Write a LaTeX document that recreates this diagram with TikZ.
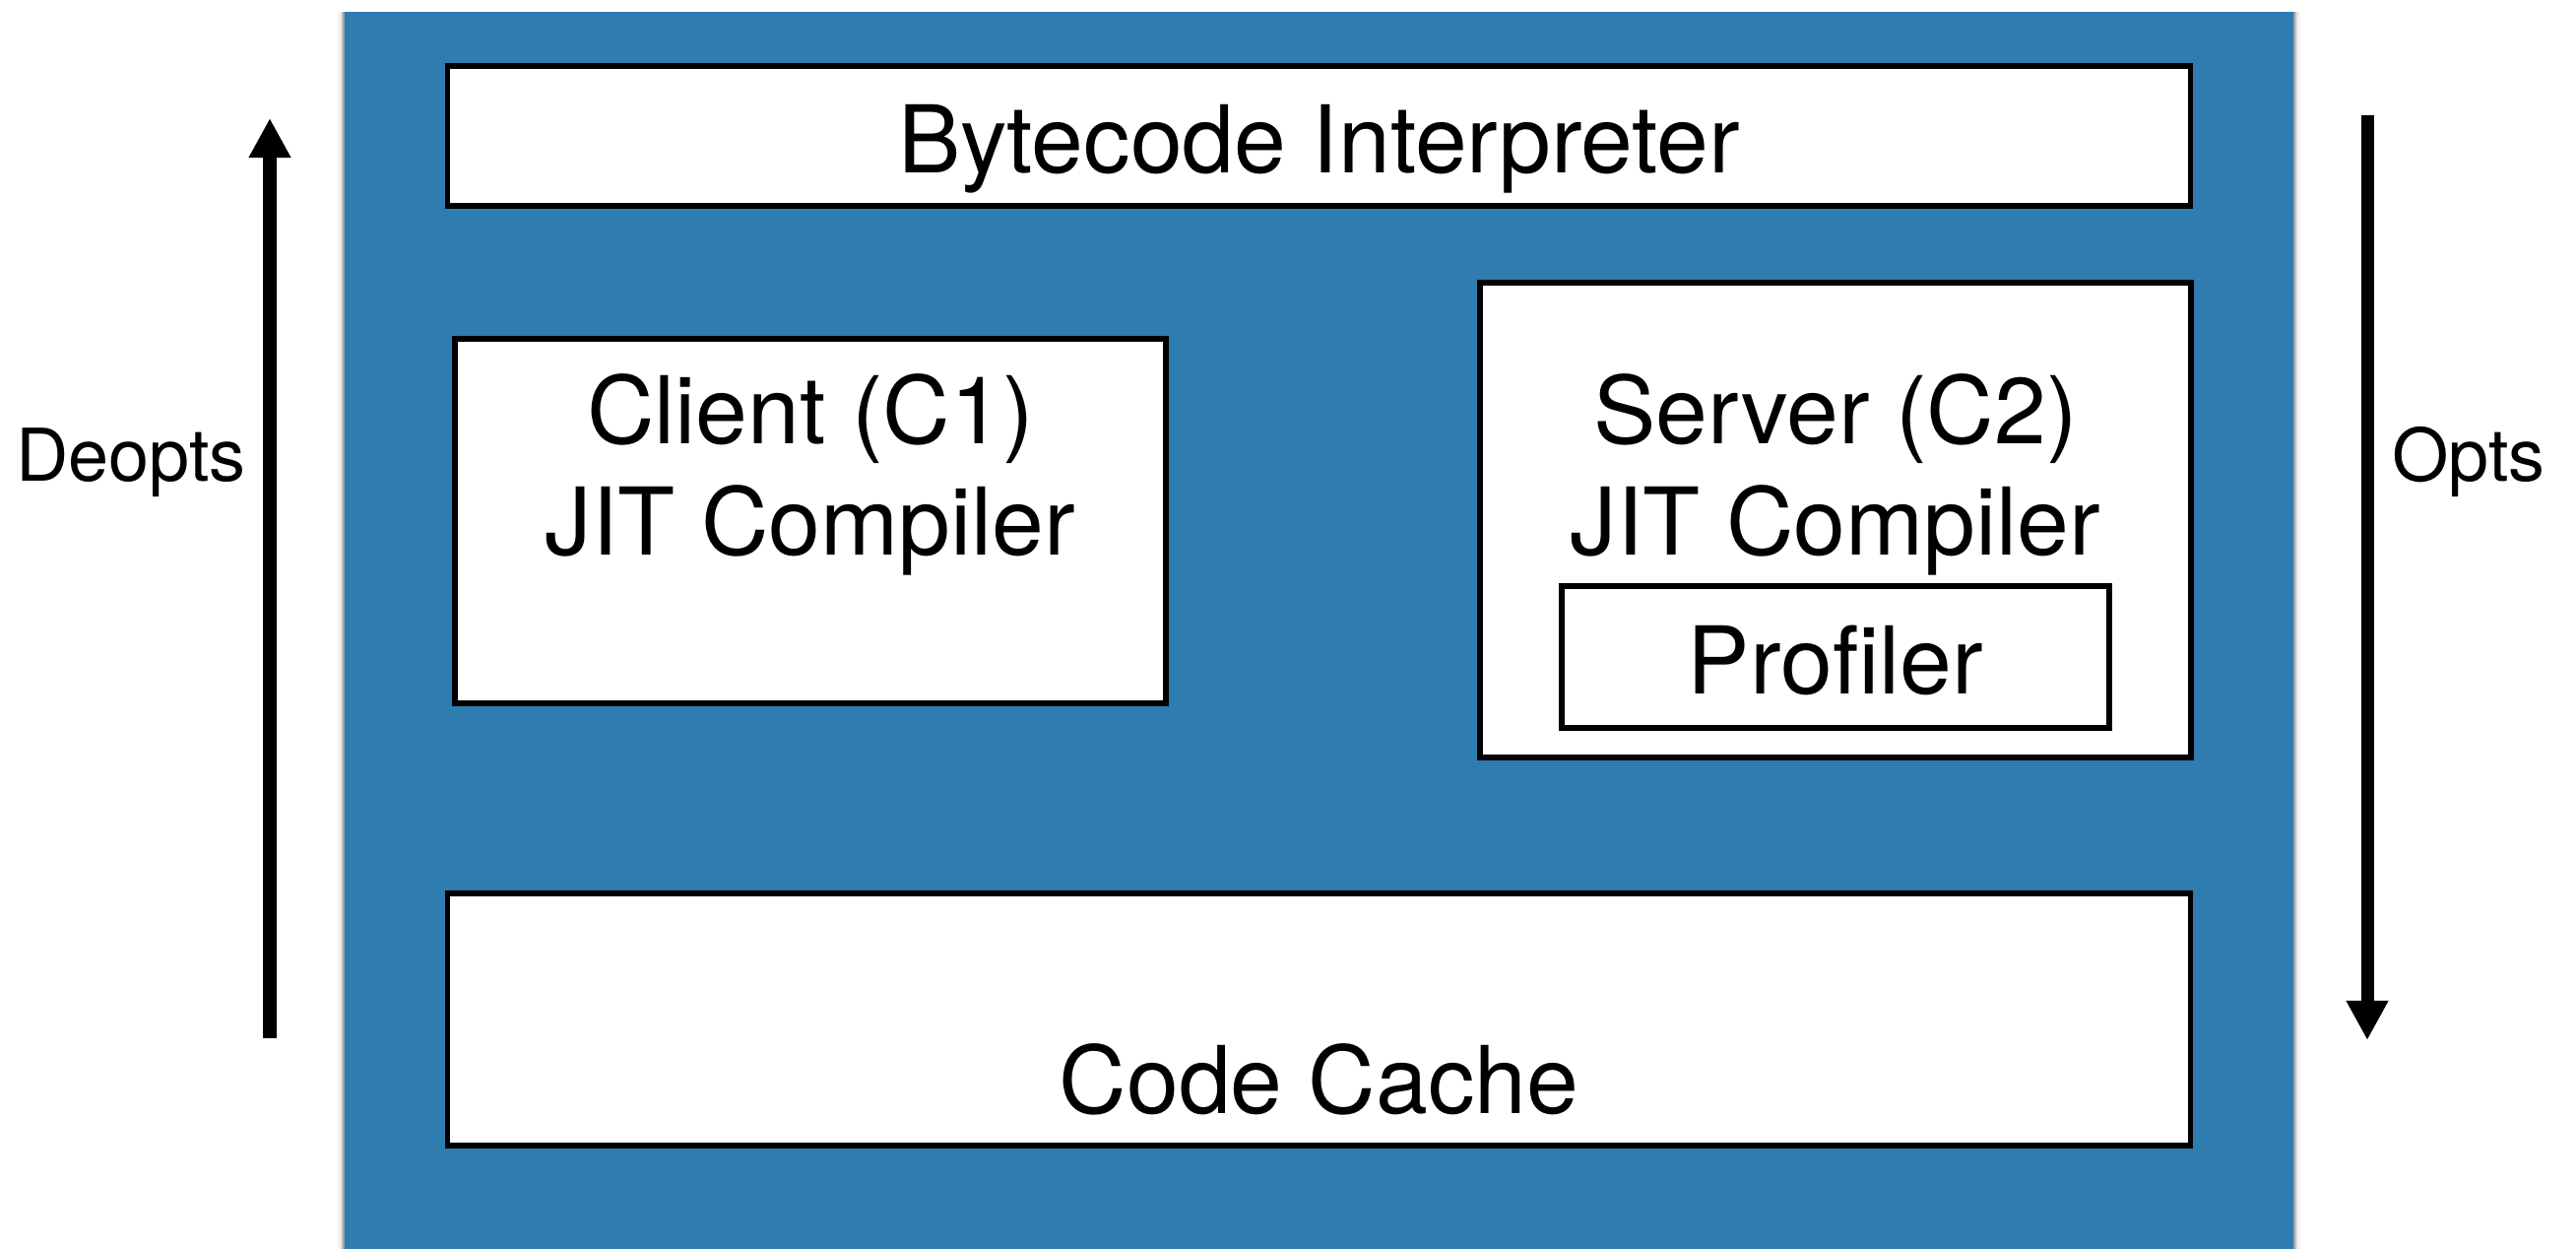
\documentclass[tikz,border=0pt]{standalone}
\usepackage{fontspec}
\setmainfont{TeX Gyre Heros}
\usetikzlibrary{arrows.meta}
\definecolor{jvmblue}{RGB}{46,124,176}

\begin{document}
\begin{tikzpicture}[x=0.01cm,y=-0.01cm,
  box/.style={draw=black,line width=1.6pt,fill=white,inner sep=0pt},
  txt/.style={anchor=base,inner sep=0pt,font=\fontsize{27}{32}\selectfont},
  side/.style={anchor=base,inner sep=0pt,font=\fontsize{21}{25}\selectfont},
  flow/.style={line width=3.7pt,-{Triangle[width=0.4cm,length=0.4cm]}}]
  \useasboundingbox (0,0) rectangle (2616,1268);

  % panel with a soft edge
  \foreach \d/\op in {2/0.25,4/0.12,7/0.05}{
    \fill[black,opacity=\op] (350-\d,12) rectangle (2329+\d,1268);
  }
  \fill[jvmblue] (350,12) rectangle (2329,1268);

  \node[box,minimum width=17.69cm,minimum height=1.42cm] (bci) at (1339.5,138) {};
  \node[box,minimum width=7.22cm,minimum height=3.70cm] (client) at (823,529) {};
  \node[box,minimum width=7.22cm,minimum height=4.82cm] (server) at (1864,528) {};
  \node[box,minimum width=5.56cm,minimum height=1.44cm] (prof) at (1864,667) {};
  \node[box,minimum width=17.69cm,minimum height=2.56cm] (cache) at (1339.5,1035) {};

  \node[txt] (bcitxt) at (1339.5,176) {Bytecode Interpreter};
  \node[txt] (clienta) at (823,451) {Client (C1)};
  \node[txt] (clientb) at (823,564) {JIT Compiler};
  \node[txt] (servera) at (1864,451) {Server (C2)};
  \node[txt] (serverb) at (1864,564) {JIT Compiler};
  \node[txt] (proftxt) at (1864,705) {Profiler};
  \node[txt] (cachetxt) at (1339.5,1130) {Code Cache};

  % deoptimisation goes up, optimisation goes down
  \coordinate (dtail) at (274,1054);
  \coordinate (dtip) at (274,120);
  \coordinate (otail) at (2404,117);
  \coordinate (otip) at (2404,1056);
  \draw[flow] (dtail) -- (dtip);
  \draw[flow] (otail) -- (otip);
  \node[side] (deopts) at (133,489) {Deopts};
  \node[side] (opts) at (2507,489) {Opts};
\end{tikzpicture}
\end{document}
